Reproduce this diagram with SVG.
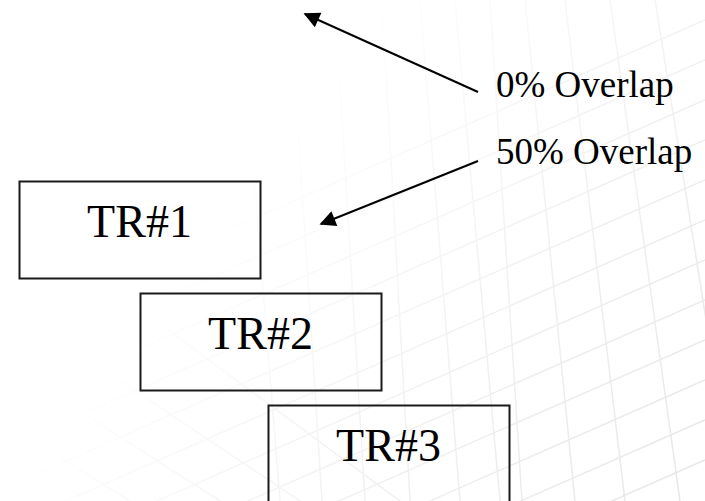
<svg xmlns="http://www.w3.org/2000/svg" width="705" height="501" viewBox="0 0 705 501">
  <style>
    .box { fill: none; stroke: #1a1a1a; stroke-width: 2; }
    .lbl { font-family: "Liberation Serif", "Times New Roman", serif; fill: #000; }
    .tr { font-size: 46px; text-anchor: middle; }
    .note { font-size: 37px; }
    .conn { stroke: #000; stroke-width: 2; fill: none; marker-end: url(#arrow); }
    .grid { stroke: #e6e6e6; stroke-width: 1.5; fill: none; }
  </style>
  <defs>
    <marker id="arrow" viewBox="0 0 10 10" refX="9" refY="5" markerWidth="10" markerHeight="8" orient="auto" markerUnits="strokeWidth">
      <path d="M0,0 L10,5 L0,10 z" fill="#000"/>
    </marker>
    <linearGradient id="fade" gradientUnits="userSpaceOnUse" x1="705" y1="501" x2="250" y2="150">
      <stop offset="0" stop-color="#fff" stop-opacity="1"/>
      <stop offset="0.5" stop-color="#fff" stop-opacity="0.55"/>
      <stop offset="1" stop-color="#fff" stop-opacity="0"/>
    </linearGradient>
    <mask id="gridmask" maskUnits="userSpaceOnUse" x="0" y="0" width="705" height="501">
      <rect x="0" y="0" width="705" height="501" fill="url(#fade)"/>
    </mask>
  </defs>
  <rect x="0" y="0" width="705" height="501" fill="#fff"/>
  <g id="background-grid" class="grid" mask="url(#gridmask)">
    <path d="M240,0 L280,501"/>
    <path d="M290,0 L322,501"/>
    <path d="M335,0 L365,501"/>
    <path d="M382,0 L410,501"/>
    <path d="M420,0 L460,501"/>
    <path d="M455,0 L500,501"/>
    <path d="M490,0 L522,501"/>
    <path d="M525,0 L575,501"/>
    <path d="M565,0 L625,501"/>
    <path d="M610,0 L680,501"/>
    <path d="M655,0 L735,501"/>
    <path d="M0,330 L705,20"/>
    <path d="M0,370 L705,60"/>
    <path d="M0,410 L705,100"/>
    <path d="M0,450 L705,140"/>
    <path d="M0,490 L705,180"/>
    <path d="M0,530 L705,220"/>
    <path d="M0,570 L705,260"/>
    <path d="M0,610 L705,300"/>
    <path d="M0,650 L705,340"/>
    <path d="M0,690 L705,380"/>
    <path d="M0,730 L705,420"/>
    <path d="M0,770 L705,460"/>
    <path d="M0,300 L300,501"/>
    <path d="M0,360 L220,501"/>
    <path d="M0,420 L130,501"/>
    <path d="M60,250 L400,501"/>
  </g>
  <g id="connectors">
    <line class="conn" x1="478" y1="92" x2="305" y2="14"/>
    <line class="conn" x1="478" y1="161" x2="321" y2="224"/>
  </g>
  <g id="label-0">
    <text class="lbl note" x="496" y="97">0% Overlap</text>
  </g>
  <g id="label-50">
    <text class="lbl note" x="496" y="164">50% Overlap</text>
  </g>
  <g id="tr1">
    <rect class="box" x="19.5" y="181.5" width="241" height="97"/>
    <text class="lbl tr" x="139.5" y="237">TR#1</text>
  </g>
  <g id="tr2">
    <rect class="box" x="140.5" y="293.5" width="241" height="97"/>
    <text class="lbl tr" x="260.5" y="349">TR#2</text>
  </g>
  <g id="tr3">
    <rect class="box" x="268.5" y="405.5" width="241" height="110"/>
    <text class="lbl tr" x="388.5" y="461">TR#3</text>
  </g>
</svg>
